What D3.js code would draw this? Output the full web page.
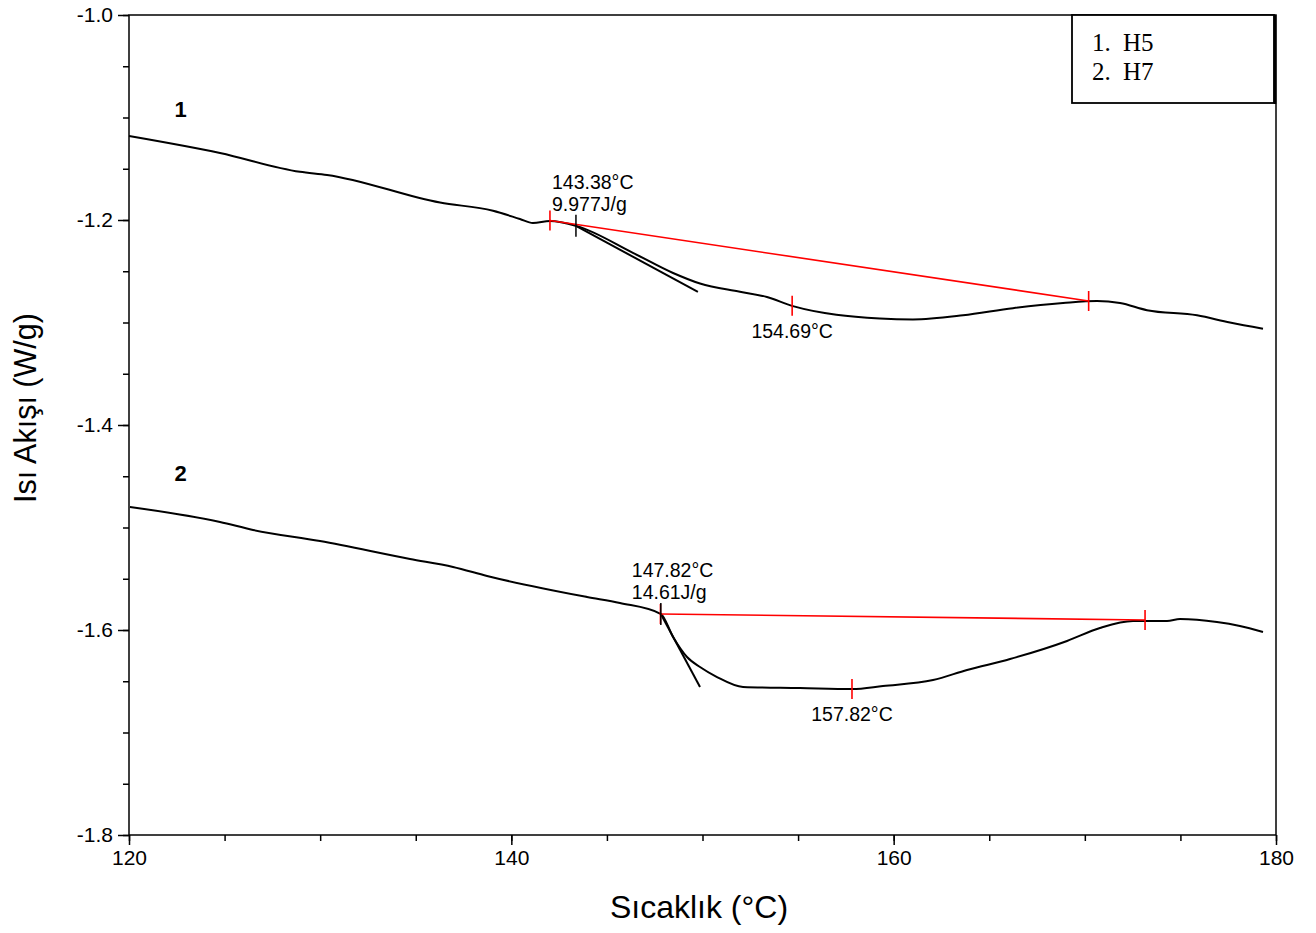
<!DOCTYPE html>
<html>
<head>
<meta charset="utf-8">
<script src="https://cdn.jsdelivr.net/npm/d3@7"></script>
<style>
  html, body { margin: 0; padding: 0; background: #fff; }
  svg { display: block; }
</style>
</head>
<body>
<svg id="chart" width="1316" height="933"></svg>
<script>
// DSC heat-flow curves (temperature in °C, heat flow in W/g)
const h5Temp = [120.0, 124.76, 128.94, 130.36, 136.27, 139.04, 140.45, 141.13, 142.02, 143.43, 146.36, 148.46, 149.87, 151.96, 153.37, 154.73, 159.28, 161.01, 163.63, 166.24, 168.86, 170.64, 171.84, 173.25, 175.87, 177.59, 179.32];
const h5Flow = [-1.118, -1.1346, -1.153, -1.156, -1.183, -1.191, -1.199, -1.203, -1.201, -1.206, -1.232, -1.2517, -1.262, -1.270, -1.2751, -1.284, -1.296, -1.297, -1.293, -1.286, -1.281, -1.279, -1.281, -1.288, -1.293, -1.300, -1.306];

const h7Temp = [120.05, 124.76, 126.49, 129.99, 134.70, 136.95, 138.73, 143.96, 145.68, 147.83, 148.46, 149.19, 149.87, 150.76, 152.12, 155.10, 157.82, 159.44, 162.06, 163.84, 166.09, 169.07, 170.79, 172.52, 174.30, 174.98, 176.91, 178.11, 179.32];
const h7Flow = [-1.480, -1.4946, -1.5024, -1.5132, -1.5307, -1.5385, -1.5473, -1.5678, -1.5737, -1.5844, -1.6068, -1.6263, -1.6361, -1.6459, -1.6556, -1.6566, -1.6576, -1.6546, -1.6488, -1.6390, -1.6283, -1.6107, -1.5980, -1.5912, -1.5912, -1.5893, -1.5922, -1.5961, -1.6020];

// integration baselines (start / end of the peak) and onset tangents
const h5Baseline = [[142.02, -1.2005], [170.20, -1.2790]];
const h5Tangent = [[143.38, -1.2057], [149.76, -1.2702]];
const h7Baseline = [[147.80, -1.5844], [173.15, -1.5902]];
const h7Tangent = [[147.82, -1.5844], [149.87, -1.6556]];

// peak analysis results
const h5Onset = 143.38, h5Enthalpy = "9.977J/g", h5Peak = 154.69;
const h7Onset = 147.82, h7Enthalpy = "14.61J/g", h7Peak = 157.82;

const xTicks = [120, 140, 160, 180];
const yTicks = [-1.0, -1.2, -1.4, -1.6, -1.8];
const legendNums = ["1.", "2."];
const legendNames = ["H5", "H7"];
const curveTags = ["1", "2"];

const svg = d3.select("#chart");
const plotL = 129, plotR = 1276, plotT = 15, plotB = 835;
const sans = "Arial, 'Liberation Sans', sans-serif";

const x = d3.scaleLinear().domain([120, 180]).range([plotL, plotR]);
const y = d3.scaleLinear().domain([-1.8, -1.0]).range([plotB, plotT]);

const interp = (ts, fs, t) => {
  for (let i = 0; i < ts.length - 1; i++) {
    if (t >= ts[i] && t <= ts[i + 1]) {
      const k = (t - ts[i]) / (ts[i + 1] - ts[i]);
      return fs[i] + k * (fs[i + 1] - fs[i]);
    }
  }
  return fs[fs.length - 1];
};

// frame
svg.append("rect")
  .attr("x", plotL).attr("y", plotT)
  .attr("width", plotR - plotL).attr("height", plotB - plotT)
  .attr("fill", "none").attr("stroke", "#000").attr("stroke-width", 1.5);

// axes
const xAxis = d3.axisBottom(x).tickValues(xTicks).tickFormat(d3.format("d")).tickSize(10).tickPadding(5);
const xMinor = d3.axisBottom(x).tickValues(d3.range(120, 181, 5)).tickFormat("").tickSize(6);
const yAxis = d3.axisLeft(y).tickValues(yTicks).tickFormat(d => d.toFixed(1)).tickSize(11).tickPadding(5);
const yMinor = d3.axisLeft(y).tickValues(d3.range(0, 17).map(i => -1.8 + i * 0.05)).tickFormat("").tickSize(6);

function styleAxis(g) {
  g.select(".domain").remove();
  g.selectAll("line").attr("stroke", "#000").attr("stroke-width", 1.5);
  g.selectAll("text").attr("fill", "#000")
    .style("font-family", sans).style("font-size", "21px");
}

svg.append("g").attr("transform", `translate(0,${plotB})`).call(xMinor).call(styleAxis);
svg.append("g").attr("transform", `translate(0,${plotB})`).call(xAxis).call(styleAxis);
svg.append("g").attr("transform", `translate(${plotL},0)`).call(yMinor).call(styleAxis);
svg.append("g").attr("transform", `translate(${plotL},0)`).call(yAxis).call(styleAxis);

// axis titles
svg.append("text")
  .attr("x", 699).attr("y", 918)
  .attr("text-anchor", "middle")
  .style("font-family", sans).style("font-size", "32px")
  .text("Sıcaklık (°C)");

svg.append("text")
  .attr("transform", `translate(36,408) rotate(-90)`)
  .attr("text-anchor", "middle")
  .style("font-family", sans).style("font-size", "30.5px")
  .text("Isı Akışı (W/g)");

const line = d3.line().x(d => x(d[0])).y(d => y(d[1])).curve(d3.curveMonotoneX);
const straight = d3.line().x(d => x(d[0])).y(d => y(d[1]));
const plot = svg.append("g");

function drawCurve(ts, fs, baseline, tangent, onset, enthalpy, peak, labelDx, tag, tagT, tagV) {
  const pts = ts.map((t, i) => [t, fs[i]]);
  plot.append("path").datum(pts).attr("d", line)
    .attr("fill", "none").attr("stroke", "#000").attr("stroke-width", 2).attr("stroke-linejoin", "round");

  // onset tangent
  plot.append("path").datum(tangent).attr("d", straight)
    .attr("fill", "none").attr("stroke", "#000").attr("stroke-width", 2);

  // integration baseline
  plot.append("path").datum(baseline).attr("d", straight)
    .attr("fill", "none").attr("stroke", "#ff0000").attr("stroke-width", 1.6);

  // red limit ticks at baseline ends and at the peak
  const redMarks = [baseline[0], baseline[1], [peak, interp(ts, fs, peak)]];
  redMarks.forEach(p => {
    plot.append("line")
      .attr("x1", x(p[0])).attr("x2", x(p[0]))
      .attr("y1", y(p[1]) - 10).attr("y2", y(p[1]) + 10)
      .attr("stroke", "#ff0000").attr("stroke-width", 1.6);
  });

  // black onset tick
  const onsetV = tangent[0][1];
  plot.append("line")
    .attr("x1", x(onset)).attr("x2", x(onset))
    .attr("y1", y(onsetV) - 11).attr("y2", y(onsetV) + 11)
    .attr("stroke", "#000").attr("stroke-width", 1.5);

  plot.append("text")
    .attr("x", x(onset) + labelDx).attr("y", y(onsetV) - 37)
    .style("font-family", sans).style("font-size", "19.5px")
    .text(onset.toFixed(2) + "°C");
  plot.append("text")
    .attr("x", x(onset) + labelDx).attr("y", y(onsetV) - 15)
    .style("font-family", sans).style("font-size", "19.5px")
    .text(enthalpy);

  plot.append("text")
    .attr("x", x(peak)).attr("y", y(interp(ts, fs, peak)) + 32)
    .attr("text-anchor", "middle")
    .style("font-family", sans).style("font-size", "19.5px")
    .text(peak.toFixed(2) + "°C");

  plot.append("text")
    .attr("x", x(tagT)).attr("y", y(tagV))
    .attr("text-anchor", "middle")
    .style("font-family", sans).style("font-size", "22px").style("font-weight", "bold")
    .text(tag);
}

drawCurve(h5Temp, h5Flow, h5Baseline, h5Tangent, h5Onset, h5Enthalpy, h5Peak, -24, curveTags[0], 122.7, -1.0995);
drawCurve(h7Temp, h7Flow, h7Baseline, h7Tangent, h7Onset, h7Enthalpy, h7Peak, -29, curveTags[1], 122.7, -1.455);

// legend box
const legend = svg.append("g");
legend.append("rect")
  .attr("x", 1072).attr("y", plotT).attr("width", 202).attr("height", 88)
  .attr("fill", "#fff").attr("stroke", "#000").attr("stroke-width", 1.8);
legend.append("line")
  .attr("x1", 1275).attr("x2", 1275).attr("y1", plotT).attr("y2", plotT + 89)
  .attr("stroke", "#000").attr("stroke-width", 2.5);
const serif = "'Liberation Serif', 'Times New Roman', serif";
legend.selectAll("text.num").data(legendNums).enter().append("text")
  .attr("class", "num")
  .attr("x", 1092).attr("y", (d, i) => 51 + i * 29)
  .style("font-family", serif).style("font-size", "25px")
  .text(d => d);
legend.selectAll("text.name").data(legendNames).enter().append("text")
  .attr("class", "name")
  .attr("x", 1123).attr("y", (d, i) => 51 + i * 29)
  .style("font-family", serif).style("font-size", "25px")
  .text(d => d);
</script>
</body>
</html>
